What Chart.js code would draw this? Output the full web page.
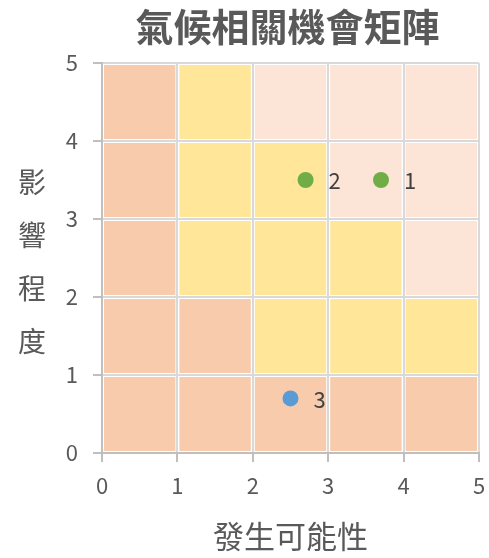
<!DOCTYPE html>
<html>
<head>
<meta charset="utf-8">
<script src="https://cdn.jsdelivr.net/npm/chart.js@4"></script>
<style>
  html, body { margin: 0; padding: 0; background: #ffffff; }
  #wrap { width: 489px; height: 558px; }
</style>
</head>
<body>
<div id="wrap"><canvas id="c" width="489" height="558"></canvas></div>
<script>
// Chart texts
const chartTitle = '氣候相關機會矩陣';
const xTitle = '發生可能性';
const yTitle = ['影', '響', '程', '度'];

// Axis ticks (both axes)
const axisTicks = [0, 1, 2, 3, 4, 5];

// Matrix zones, one row per impact band from bottom (0–1) to top (4–5),
// one value per likelihood band (0 = low, 1 = medium, 2 = high)
const zoneRows = [
  [0, 0, 0, 0, 0],
  [0, 0, 1, 1, 1],
  [0, 1, 1, 1, 2],
  [0, 1, 1, 2, 2],
  [0, 1, 2, 2, 2]
];

// Opportunities
const oppLabels = ['1', '2', '3'];
const oppLikelihood = [3.7, 2.7, 2.5];
const oppImpact = [3.5, 3.5, 0.7];
const oppGroup = [0, 0, 1];

// Styles
const zoneColors = ['#F8CBAD', '#FFE699', '#FCE4D6'];
const groupColors = ['#70AD47', '#5B9BD5'];
const FONT = "'Noto Sans CJK TC', 'Noto Sans', sans-serif";
const TEXT = '#595959';

const points = oppLabels.map((l, i) => ({ x: oppLikelihood[i], y: oppImpact[i], label: l }));
const pointColors = oppGroup.map(g => groupColors[g]);

// Paints the coloured zone cells beneath the grid
const zonePlugin = {
  id: 'zones',
  beforeDraw(chart) {
    const { ctx, scales: { x, y } } = chart;
    ctx.save();
    zoneRows.forEach((row, r) => {
      row.forEach((lvl, c) => {
        const x0 = x.getPixelForValue(axisTicks[c]);
        const x1 = x.getPixelForValue(axisTicks[c + 1]);
        const y0 = y.getPixelForValue(axisTicks[r + 1]);
        const y1 = y.getPixelForValue(axisTicks[r]);
        ctx.fillStyle = zoneColors[lvl];
        ctx.fillRect(x0 + 2, y0 + 2, x1 - x0 - 4, y1 - y0 - 4);
      });
    });
    ctx.restore();
  }
};

// Chart title, vertical y title and point labels
const textPlugin = {
  id: 'texts',
  afterDraw(chart) {
    const { ctx, chartArea: a } = chart;
    ctx.save();
    ctx.fillStyle = TEXT;
    ctx.textAlign = 'center';
    ctx.textBaseline = 'middle';
    ctx.font = `bold 38px ${FONT}`;
    ctx.fillText(chartTitle, (a.left + a.right) / 2 - 3, 27);

    ctx.font = `28px ${FONT}`;
    const mid = (a.top + a.bottom) / 2 + 4;
    const step = 53;
    yTitle.forEach((ch, i) => {
      ctx.fillText(ch, 32, mid + (i - (yTitle.length - 1) / 2) * step);
    });

    ctx.fillStyle = '#404040';
    ctx.textAlign = 'left';
    ctx.font = `22px ${FONT}`;
    const meta = chart.getDatasetMeta(0);
    meta.data.forEach((el, i) => {
      ctx.fillText(points[i].label, el.x + 23, el.y + 1);
    });
    ctx.restore();
  }
};

new Chart(document.getElementById('c'), {
  type: 'scatter',
  data: {
    datasets: [{
      data: points,
      pointRadius: 8,
      pointHoverRadius: 8,
      pointBackgroundColor: pointColors,
      pointBorderColor: pointColors,
      pointBorderWidth: 0
    }]
  },
  options: {
    responsive: false,
    animation: false,
    events: [],
    layout: { padding: { top: 63, right: 10, left: 0, bottom: 0 } },
    plugins: {
      legend: { display: false },
      tooltip: { enabled: false },
      title: { display: false }
    },
    scales: {
      x: {
        type: 'linear',
        min: axisTicks[0],
        max: axisTicks[axisTicks.length - 1],
        afterBuildTicks(s) { s.ticks = axisTicks.map(v => ({ value: v })); },
        afterFit(s) { s.height = 105; s.paddingLeft = 0; s.paddingRight = 0; },
        grid: { color: '#D9D9D9', lineWidth: 2, tickLength: 9, tickColor: '#BFBFBF', tickWidth: 2 },
        border: { color: '#BFBFBF', width: 2 },
        ticks: { color: TEXT, font: { family: FONT, size: 22 }, padding: 10, maxRotation: 0 },
        title: { display: true, text: xTitle, color: TEXT, font: { family: FONT, size: 31 }, padding: { top: 0, bottom: 3 } }
      },
      y: {
        type: 'linear',
        min: axisTicks[0],
        max: axisTicks[axisTicks.length - 1],
        afterBuildTicks(s) { s.ticks = axisTicks.map(v => ({ value: v })); },
        afterFit(s) { s.width = 102; s.paddingTop = 0; s.paddingBottom = 0; },
        grid: { color: '#D9D9D9', lineWidth: 2, tickLength: 9, tickColor: '#BFBFBF', tickWidth: 2 },
        border: { color: '#BFBFBF', width: 2 },
        ticks: { color: TEXT, font: { family: FONT, size: 22 }, padding: 15 }
      }
    }
  },
  plugins: [zonePlugin, textPlugin]
});
</script>
</body>
</html>
